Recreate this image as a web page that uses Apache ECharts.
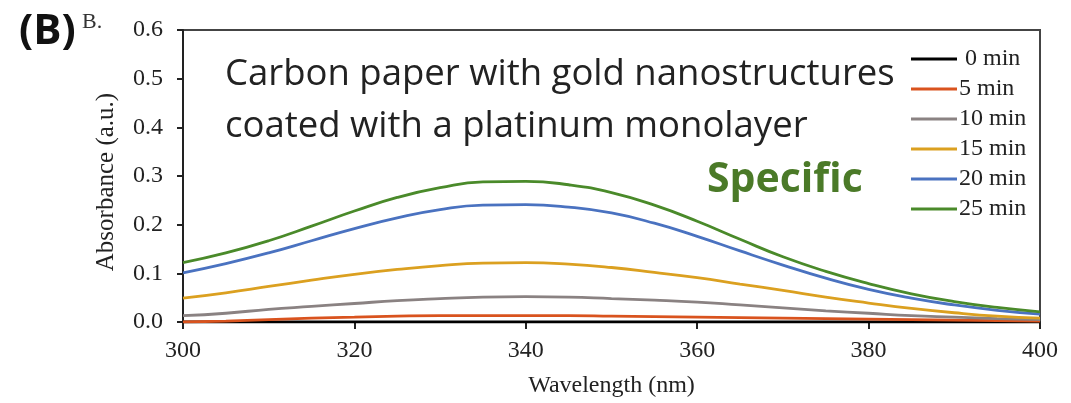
<!DOCTYPE html>
<html>
<head>
<meta charset="utf-8">
<script src="https://cdn.jsdelivr.net/npm/echarts@6/dist/echarts.min.js"></script>
<style>
  html, body { margin: 0; padding: 0; background: #fff; }
  #chart { width: 1071px; height: 403px; }
</style>
</head>
<body>
<div id="chart"></div>
<script>
// wavelength samples (nm)
const wavelengths = [300, 305, 310, 315, 320, 325, 330, 335, 340, 345, 350, 355, 360, 365, 370, 375, 380, 385, 390, 395, 400]

// absorbance per time point
const abs0  = [0.000, 0.000, 0.000, 0.000, 0.000, 0.000, 0.000, 0.000, 0.000, 0.000, 0.000, 0.000, 0.000, 0.000, 0.000, 0.000, 0.000, 0.000, 0.000, 0.000, 0.000]
const abs5  = [0.000, 0.002, 0.005, 0.008, 0.010, 0.012, 0.013, 0.013, 0.013, 0.013, 0.012, 0.011, 0.010, 0.009, 0.008, 0.007, 0.006, 0.005, 0.004, 0.003, 0.002]
const abs10 = [0.013, 0.018, 0.026, 0.032, 0.038, 0.044, 0.048, 0.051, 0.052, 0.051, 0.048, 0.045, 0.041, 0.035, 0.029, 0.023, 0.018, 0.013, 0.010, 0.007, 0.005]
const abs15 = [0.049, 0.060, 0.073, 0.086, 0.098, 0.108, 0.116, 0.121, 0.122, 0.119, 0.112, 0.102, 0.091, 0.078, 0.065, 0.051, 0.039, 0.028, 0.019, 0.012, 0.008]
const abs20 = [0.101, 0.120, 0.142, 0.167, 0.192, 0.214, 0.231, 0.240, 0.241, 0.236, 0.224, 0.203, 0.176, 0.146, 0.117, 0.090, 0.067, 0.049, 0.035, 0.024, 0.016]
const abs25 = [0.122, 0.142, 0.167, 0.197, 0.228, 0.256, 0.276, 0.288, 0.289, 0.282, 0.266, 0.240, 0.207, 0.170, 0.134, 0.104, 0.079, 0.058, 0.042, 0.030, 0.021]

const seriesNames = ['0 min', '5 min', '10 min', '15 min', '20 min', '25 min']

const colors = ['#000000', '#d9531e', '#8a8282', '#dba020', '#4a72c0', '#4a8a2a']
const allData = [abs0, abs5, abs10, abs15, abs20, abs25]

const serif = '"Liberation Serif", "DejaVu Serif", serif'
const sans = '"Open Sans", "Noto Sans", sans-serif'

const chart = echarts.init(document.getElementById('chart'))

const option = {
  animation: false,
  color: colors,
  grid: {
    left: 183,
    right: 31,
    top: 30,
    bottom: 81,
    show: true,
    borderColor: '#444',
    borderWidth: 2
  },
  legend: {
    orient: 'vertical',
    left: 906,
    top: 42,
    icon: 'rect',
    itemWidth: 46,
    itemHeight: 3,
    itemGap: 6,
    align: 'left',
    formatter: name => name === '0 min' ? ' ' + name : name,
    textStyle: {
      fontFamily: serif,
      fontSize: 24,
      color: '#222',
      lineHeight: 24,
      padding: [0, 0, 0, -3]
    },
    data: seriesNames
  },
  xAxis: {
    type: 'value',
    min: 300,
    max: 400,
    interval: 20,
    name: 'Wavelength (nm)',
    nameLocation: 'middle',
    nameGap: 52,
    nameTextStyle: { fontFamily: serif, fontSize: 24, color: '#222' },
    axisLine: { lineStyle: { color: '#222', width: 2 } },
    axisTick: { show: true, inside: false, length: 7, lineStyle: { color: '#222', width: 2 } },
    axisLabel: { fontFamily: serif, fontSize: 24, color: '#222', margin: 17 },
    splitLine: { show: false }
  },
  yAxis: {
    type: 'value',
    min: 0,
    max: 0.6,
    interval: 0.1,
    name: 'Absorbance (a.u.)',
    nameLocation: 'middle',
    nameGap: 64,
    nameRotate: 90,
    nameTextStyle: { fontFamily: serif, fontSize: 25, color: '#222', padding: [0, 12, 0, 0] },
    axisLine: { show: true, lineStyle: { color: '#222', width: 2 } },
    axisTick: { show: true, inside: false, length: 6, lineStyle: { color: '#222', width: 2 } },
    axisLabel: {
      fontFamily: serif, fontSize: 24, color: '#222', margin: 20,
      formatter: v => v.toFixed(1)
    },
    splitLine: { show: false }
  },
  graphic: [
    { type: 'text', left: 19, top: 11, style: { text: '(B)', font: 'bold 42px ' + sans, fill: '#111' } },
    { type: 'text', left: 82, top: 11, style: { text: 'B.', font: '22px ' + serif, fill: '#333' } },
    { type: 'text', left: 225, top: 56, style: { text: 'Carbon paper with gold nanostructures', font: '36.5px ' + sans, fill: '#222' } },
    { type: 'text', left: 225, top: 108, style: { text: 'coated with a platinum monolayer', font: '36.5px ' + sans, fill: '#222' } },
    { type: 'text', left: 707, top: 160, style: { text: 'Specific', font: 'bold 41px ' + sans, fill: '#4b7a28' } }
  ],
  series: seriesNames.map((name, i) => ({
    name: name,
    type: 'line',
    showSymbol: false,
    smooth: true,
    lineStyle: { width: 2.8 },
    z: i + 2,
    data: wavelengths.map((w, j) => [w, allData[i][j]])
  }))
}

chart.setOption(option)
</script>
</body>
</html>
